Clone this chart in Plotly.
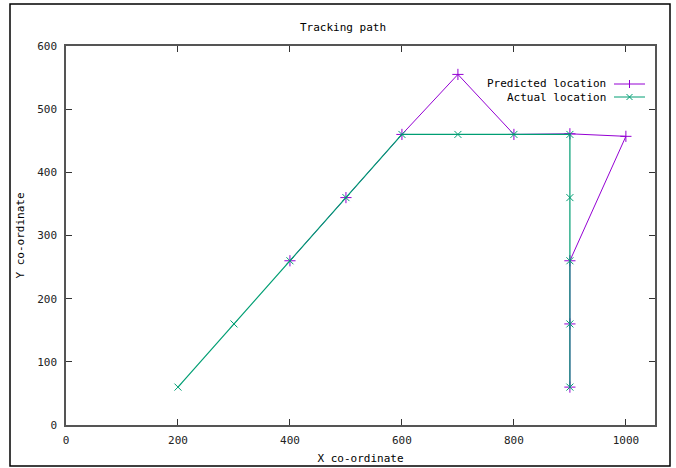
import plotly.graph_objects as go

pred_x = [400, 500, 600, 700, 800, 900, 1000, 900, 900, 900]
pred_y = [260, 360, 460, 555, 460, 461, 457, 260, 160, 60]
act_x = [200, 300, 400, 500, 600, 700, 800, 900, 900, 900, 900, 900]
act_y = [60, 160, 260, 360, 460, 460, 460, 460, 360, 260, 160, 60]
x_ticks = [0, 200, 400, 600, 800, 1000]
y_ticks = [0, 100, 200, 300, 400, 500, 600]

PURPLE = "#9400d3"
GREEN = "#009e73"
FONT = "DejaVu Sans Mono"

fig = go.Figure()
fig.add_trace(go.Scatter(x=pred_x, y=pred_y, mode="lines+markers", name="Predicted location",
                         line=dict(color=PURPLE, width=1),
                         marker=dict(symbol="cross-thin", size=8, line=dict(color=PURPLE, width=1))))
fig.add_trace(go.Scatter(x=act_x, y=act_y, mode="lines+markers", name="Actual location",
                         line=dict(color=GREEN, width=1.2),
                         marker=dict(symbol="x-thin", size=7, line=dict(color=GREEN, width=1))))

L, R, T, B = 66, 655, 46, 425
W, H = 676, 468
def px(x): return (x - L) / (R - L)
def py(y): return (B - y) / (B - T)

shapes = []
# outer frame
shapes.append(dict(type="rect", xref="paper", yref="paper", x0=px(10), x1=px(670), y0=py(466), y1=py(4),
                   line=dict(color="black", width=1.5), fillcolor="rgba(0,0,0,0)", layer="below"))
annotations = []
legend = [("Predicted location", PURPLE, 84, "plus"), ("Actual location", GREEN, 97, "x")]
for text, col, yy, kind in legend:
    annotations.append(dict(text=text, xref="paper", yref="paper", x=px(608), y=py(yy),
                            xanchor="right", yanchor="middle", showarrow=False,
                            font=dict(family=FONT, size=11, color="black")))
    shapes.append(dict(type="line", xref="paper", yref="paper", x0=px(614), x1=px(645), y0=py(yy), y1=py(yy),
                       line=dict(color=col, width=1)))
    cx = 629.5
    if kind == "plus":
        shapes.append(dict(type="line", xref="paper", yref="paper", x0=px(cx), x1=px(cx), y0=py(yy - 4), y1=py(yy + 4),
                           line=dict(color=col, width=1)))
    else:
        shapes.append(dict(type="line", xref="paper", yref="paper", x0=px(cx - 3), x1=px(cx + 3), y0=py(yy - 3), y1=py(yy + 3),
                           line=dict(color=col, width=1)))
        shapes.append(dict(type="line", xref="paper", yref="paper", x0=px(cx - 3), x1=px(cx + 3), y0=py(yy + 3), y1=py(yy - 3),
                           line=dict(color=col, width=1)))

axis_common = dict(showgrid=False, zeroline=False, showline=True, linecolor="#555555", linewidth=1.5,
                   mirror="ticks", ticks="inside", ticklen=6, tickcolor="#333333", automargin=False,
                   tickfont=dict(family=FONT, size=11, color="#222222"))

fig.update_layout(
    width=W, height=H,
    margin=dict(l=L, r=W - R, t=T, b=H - B, autoexpand=False),
    paper_bgcolor="white", plot_bgcolor="white",
    showlegend=False,
    title=dict(text="Tracking path", x=px(343), xanchor="center", xref="paper", y=1 - 27 / H, yanchor="middle",
               automargin=False, font=dict(family=FONT, size=11, color="black")),
    xaxis=dict(range=[0, 1052], tickvals=x_ticks, ticklabelstandoff=4,
               title=dict(text="X co-ordinate", font=dict(family=FONT, size=11, color="black"), standoff=8),
               **axis_common),
    yaxis=dict(range=[0, 600], tickvals=y_ticks, ticklabelstandoff=5,
               title=dict(text="Y co-ordinate", font=dict(family=FONT, size=11, color="black"), standoff=10),
               **axis_common),
    shapes=shapes, annotations=annotations,
)
fig.write_html("out.html", config={"displayModeBar": False},
               post_script="document.body.style.margin='0px';document.body.style.overflow='hidden';")
